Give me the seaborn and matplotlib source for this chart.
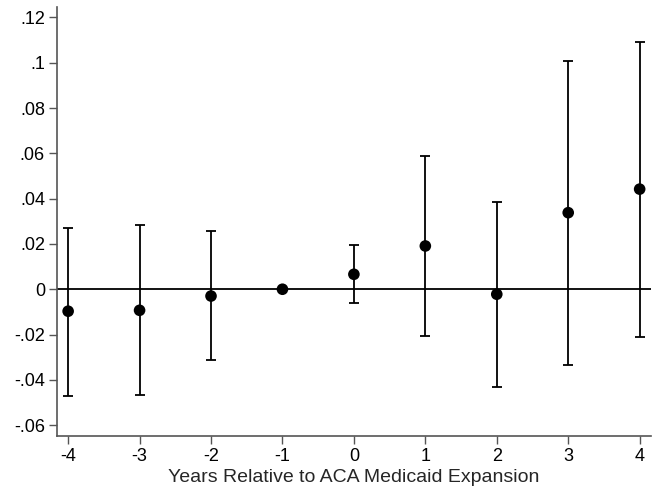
import numpy as np
import matplotlib
matplotlib.use('Agg')
import matplotlib.pyplot as plt
import seaborn as sns

# event-study estimates
years = [-4, -3, -2, -1, 0, 1, 2, 3, 4]
coef = [-0.0097, -0.0093, -0.0030, 0.0, 0.0066, 0.0191, -0.0022, 0.0338, 0.0442]
ci_lo = [-0.0471, -0.0468, -0.0313, None, -0.0062, -0.0205, -0.0430, -0.0333, -0.0211]
ci_hi = [0.0272, 0.0283, 0.0256, None, 0.0194, 0.0590, 0.0387, 0.1007, 0.1090]
ytick_vals = [-0.06, -0.04, -0.02, 0, 0.02, 0.04, 0.06, 0.08, 0.1, 0.12]
ytick_labels = ['-.06', '-.04', '-.02', '0', '.02', '.04', '.06', '.08', '.1', '.12']

sns.set_style('ticks')
plt.rcParams['font.family'] = ['Liberation Sans', 'DejaVu Sans']

fig = plt.figure(figsize=(6.57, 4.91), dpi=100)
ax = fig.add_axes([0.0863, 0.112, 0.9047, 0.8737])

# zero reference line
ax.axhline(0, color='black', lw=1.3, zorder=1)

# confidence intervals (no interval for the omitted year)
ex, ey, elo, ehi = [], [], [], []
for x, c, lo, hi in zip(years, coef, ci_lo, ci_hi):
    if lo is None:
        continue
    ex.append(x)
    ey.append(c)
    elo.append(c - lo)
    ehi.append(hi - c)
ax.errorbar(ex, ey, yerr=[elo, ehi], fmt='none', ecolor='black',
            elinewidth=1.3, capsize=3.3, capthick=1.3, zorder=2)

sns.scatterplot(x=years, y=coef, color='black', s=70, edgecolor='none',
                ax=ax, zorder=3)

ax.set_xlim(-4.16, 4.16)
ax.set_ylim(-0.0648, 0.1246)
ax.set_xticks(years)
ax.set_xticklabels([str(y) for y in years])
ax.set_yticks(ytick_vals)
ax.set_yticklabels(ytick_labels)
ax.set_xlabel('Years Relative to ACA Medicaid Expansion', fontsize=14, labelpad=3)
ax.set_ylabel('')

sns.despine(ax=ax)
for side in ['left', 'bottom']:
    ax.spines[side].set_color('#555555')
    ax.spines[side].set_linewidth(1.2)
ax.tick_params(axis='both', labelsize=13, length=5.5, width=1, color='#555555',
               labelcolor='black', pad=3)

fig.savefig('out.png', dpi=100)
